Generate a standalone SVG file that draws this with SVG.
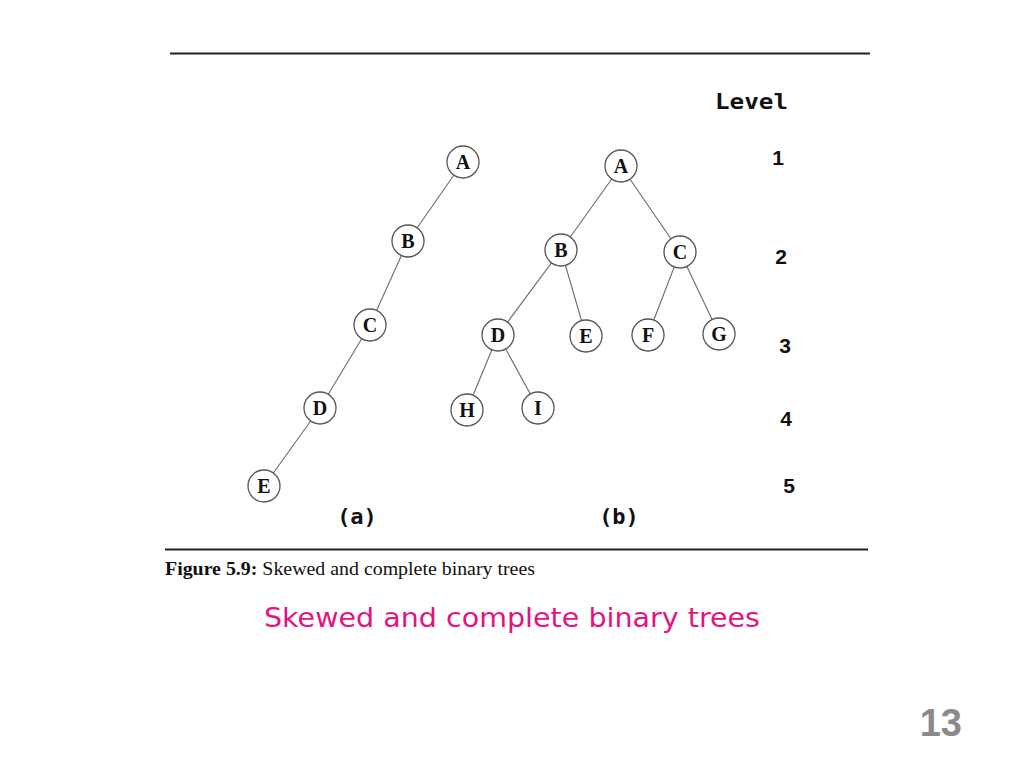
<svg xmlns="http://www.w3.org/2000/svg" width="1024" height="768" viewBox="0 0 1024 768">
<style>
.node circle{fill:#fff;stroke:#555;stroke-width:1.3}
.node text{font-family:"Liberation Serif","DejaVu Serif",serif;font-weight:bold;font-size:20px;fill:#111;text-anchor:middle}
.edges line{stroke:#6a6a6a;stroke-width:1.1}
.lvl{font-family:"DejaVu Sans Mono","Liberation Mono",monospace;font-weight:bold;font-size:22px;fill:#111}
.num{font-family:"Liberation Sans","DejaVu Sans",sans-serif;font-weight:bold;font-size:21px;fill:#111;text-anchor:middle}
.sub{font-family:"DejaVu Sans Mono","Liberation Mono",monospace;font-weight:bold;font-size:22px;fill:#111;text-anchor:middle}
.rule{stroke:#222;stroke-width:2}
</style>
<rect width="1024" height="768" fill="#fff"/>
<line class="rule" x1="170" y1="53.5" x2="870" y2="53.5"/>
<line class="rule" x1="165" y1="549.5" x2="868" y2="549.5"/>

<g class="edges">
<line x1="463" y1="162" x2="408" y2="241"/>
<line x1="408" y1="241" x2="370" y2="325"/>
<line x1="370" y1="325" x2="320" y2="408"/>
<line x1="320" y1="408" x2="264" y2="486"/>
<line x1="621" y1="166" x2="561" y2="250"/>
<line x1="621" y1="166" x2="680" y2="252"/>
<line x1="561" y1="250" x2="498" y2="335"/>
<line x1="561" y1="250" x2="586" y2="336"/>
<line x1="680" y1="252" x2="648" y2="335"/>
<line x1="680" y1="252" x2="719" y2="334"/>
<line x1="498" y1="335" x2="467" y2="410"/>
<line x1="498" y1="335" x2="538" y2="408"/>
</g>

<g id="a-A" class="node"><circle cx="463" cy="162" r="16"/><text x="463" y="169">A</text></g>
<g id="a-B" class="node"><circle cx="408" cy="241" r="16"/><text x="408" y="248">B</text></g>
<g id="a-C" class="node"><circle cx="370" cy="325" r="16"/><text x="370" y="332">C</text></g>
<g id="a-D" class="node"><circle cx="320" cy="408" r="16"/><text x="320" y="415">D</text></g>
<g id="a-E" class="node"><circle cx="264" cy="486" r="16"/><text x="264" y="493">E</text></g>

<g id="b-A" class="node"><circle cx="621" cy="166" r="16"/><text x="621" y="173">A</text></g>
<g id="b-B" class="node"><circle cx="561" cy="250" r="16"/><text x="561" y="257">B</text></g>
<g id="b-C" class="node"><circle cx="680" cy="252" r="16"/><text x="680" y="259">C</text></g>
<g id="b-D" class="node"><circle cx="498" cy="335" r="16"/><text x="498" y="342">D</text></g>
<g id="b-E" class="node"><circle cx="586" cy="336" r="16"/><text x="586" y="343">E</text></g>
<g id="b-F" class="node"><circle cx="648" cy="335" r="16"/><text x="648" y="342">F</text></g>
<g id="b-G" class="node"><circle cx="719" cy="334" r="16"/><text x="719" y="341">G</text></g>
<g id="b-H" class="node"><circle cx="467" cy="410" r="16"/><text x="467" y="417">H</text></g>
<g id="b-I" class="node"><circle cx="538" cy="408" r="16"/><text x="538" y="415">I</text></g>

<text class="lvl" x="715" y="109" textLength="73" lengthAdjust="spacingAndGlyphs">Level</text>
<text class="num" x="778" y="165">1</text>
<text class="num" x="781" y="264">2</text>
<text class="num" x="785" y="353">3</text>
<text class="num" x="786" y="426">4</text>
<text class="num" x="789" y="493">5</text>

<text class="sub" x="357" y="524">(a)</text>
<text class="sub" x="619" y="524">(b)</text>

<text x="165" y="575" font-family="Liberation Serif,serif" font-size="19" fill="#111" textLength="370" lengthAdjust="spacingAndGlyphs"><tspan font-weight="bold">Figure 5.9:</tspan> Skewed and complete binary trees</text>

<text x="512" y="627" font-family="DejaVu Sans,Verdana,sans-serif" font-size="27" fill="#e5137f" text-anchor="middle" textLength="496" lengthAdjust="spacingAndGlyphs">Skewed and complete binary trees</text>

<text x="962" y="736" font-family="Liberation Sans,Arial,sans-serif" font-weight="bold" font-size="38" fill="#8a8a8a" text-anchor="end">13</text>
</svg>
